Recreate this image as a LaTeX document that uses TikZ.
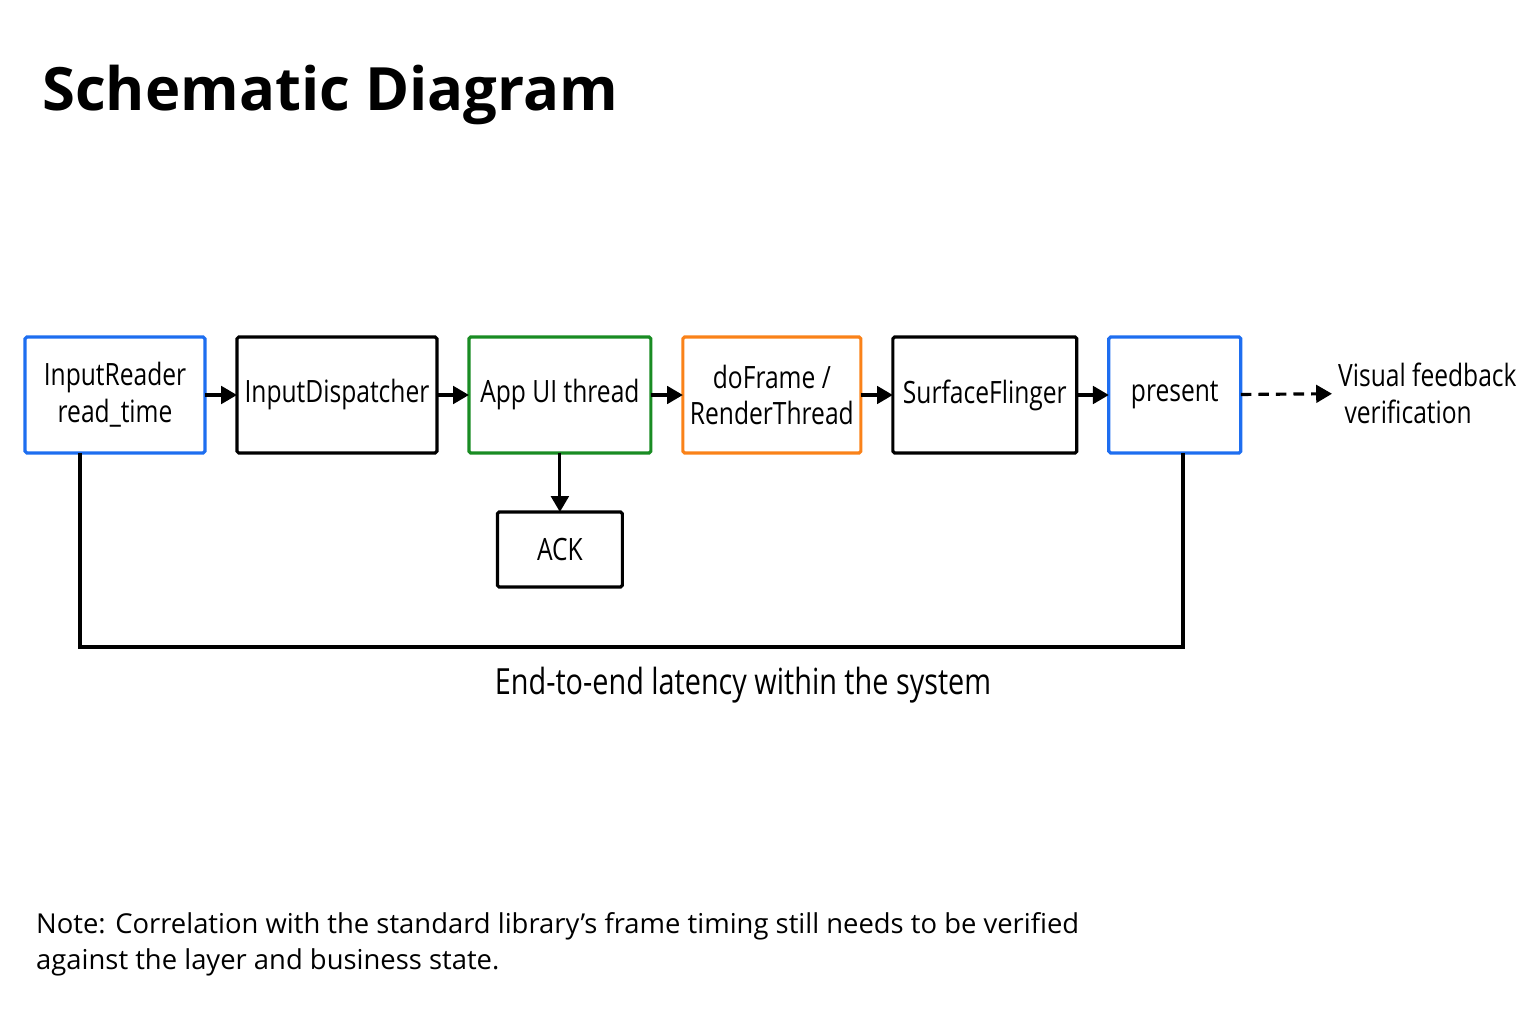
\documentclass[tikz,border=0pt]{standalone}
\usepackage{fontspec}
\setmainfont{Open Sans}
\newfontfamily\narrowfont{Open Sans}[FakeStretch=0.8]
\usetikzlibrary{positioning,arrows.meta}
\definecolor{boxblue}{RGB}{30,110,240}
\definecolor{boxgreen}{RGB}{25,140,35}
\definecolor{boxorange}{RGB}{250,130,25}
\tikzset{stage/.style={draw, line width=1.8pt, rounded corners=1pt, minimum height=2.32cm, align=center, font=\narrowfont\fontsize{17.5}{21}\selectfont, inner sep=0pt, outer sep=0pt}}
\tikzset{line/.style={draw, line width=1.8pt, -{Triangle[length=9pt,width=10pt]}}}
\begin{document}
\begin{tikzpicture}[x=0.02cm,y=-0.02cm, node distance=0.64cm]
\useasboundingbox (0,0) rectangle (1536,1024);
\node [anchor=west, font=\fontsize{34}{40}\selectfont\bfseries] (title) at (36,95) {Schematic Diagram};
%
\node [stage, draw=boxblue, minimum width=3.6cm] (reader) at (115,395) {InputReader\\read\_time};
\node [stage, minimum width=4cm, right= of reader] (disp) {InputDispatcher};
\node [stage, draw=boxgreen, minimum width=3.64cm, right= of disp] (app) {App UI thread};
\node [stage, draw=boxorange, minimum width=3.56cm, right= of app] (frame) {doFrame /\\RenderThread};
\node [stage, minimum width=3.68cm, right= of frame] (flinger) {SurfaceFlinger};
\node [stage, draw=boxblue, minimum width=2.64cm, right= of flinger] (present) {present};
\node [stage, minimum width=2.5cm, minimum height=1.5cm, below=1.18cm of app] (ack) {ACK};
\node [align=left, anchor=west, font=\narrowfont\fontsize{17.5}{21}\selectfont] (visual) at (1332,393) {Visual feedback\\\ verification};
%
\path [line] (reader) -- (disp);
\path [line] (disp) -- (app);
\path [line] (app) -- (frame);
\path [line] (frame) -- (flinger);
\path [line] (flinger) -- (present);
\path [line] (app) -- (ack);
\path [line, dash pattern=on 6pt off 4pt] (present) -- (visual);
%
\coordinate (c1) at (80,647);
\coordinate (c2) at (1183,647);
\draw [line width=1.8pt] (reader.south -| c1) -- (c1) -- (c2) -- (present.south -| c2);
\node [font=\narrowfont\fontsize{20.5}{24}\selectfont] (latency) at (743,685) {End-to-end latency within the system};
\node [anchor=north west, align=left, font=\fontsize{15.6}{20.5}\selectfont] (note) at (30,906) {Note: Correlation with the standard library’s frame timing still needs to be verified\\against the layer and business state.};
\end{tikzpicture}
\end{document}
